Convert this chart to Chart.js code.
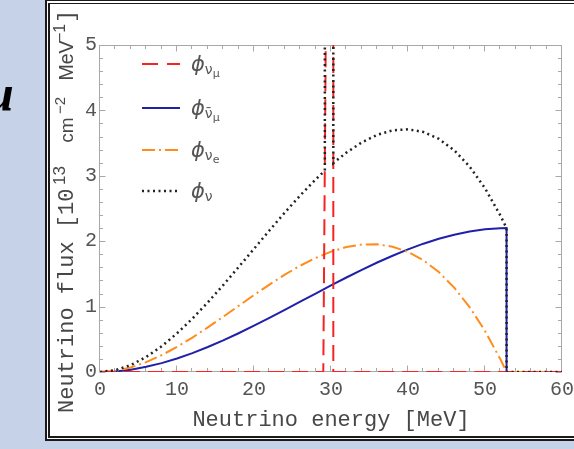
<!DOCTYPE html>
<html><head><meta charset="utf-8">
<script src="https://cdn.jsdelivr.net/npm/chart.js@4.4.1/dist/chart.umd.min.js"></script>
<style>
html,body{margin:0;padding:0;width:574px;height:449px;overflow:hidden;background:#c6d2e8;}
#panel{position:absolute;left:45px;top:0;width:620px;height:432px;border-left:5px double #1a1a1a;border-top:4px double #1a1a1a;border-bottom:5px double #1a1a1a;background:#fff;}
#mu{position:absolute;left:-14px;top:68px;font:italic bold 50px/50px "Liberation Serif";color:#000;}
#c{position:absolute;left:0;top:0;}
</style></head>
<body>
<div id="mu">μ</div>
<div id="panel"></div>
<canvas id="c" width="574" height="449"></canvas>
<script>
// ---- data ----
const energy = [0,2,4,6,8,10,12,14,16,18,20,22,24,26,28,30,32,34,36,38,40,42,44,46,48,50,52,52.8,52.8,60];
const fluxNuMuBar = [0,0.009,0.036,0.079,0.136,0.207,0.289,0.382,0.484,0.593,0.708,0.828,0.950,1.075,1.200,1.324,1.445,1.562,1.674,1.778,1.875,1.962,2.037,2.100,2.149,2.182,2.198,2.2,0,0];
const fluxNuE = [0,0.018,0.070,0.151,0.257,0.384,0.527,0.682,0.845,1.011,1.177,1.337,1.488,1.625,1.744,1.840,1.910,1.949,1.953,1.916,1.836,1.708,1.528,1.290,0.992,0.628,0.194,0,0,0];
const energyTotal = [0,2,4,6,8,10,12,14,16,18,20,22,24,26,28,29.2,29.2,30.3,30.3,32,34,36,38,40,42,44,46,48,50,52,52.8,52.8,60];
const fluxTotal = [0,0.028,0.106,0.230,0.393,0.591,0.816,1.064,1.329,1.604,1.884,2.164,2.438,2.700,2.944,3.079,5.6,5.6,3.194,3.355,3.511,3.626,3.695,3.711,3.670,3.565,3.390,3.141,2.810,2.392,2.2,0,0];
const energyNuMu = [0,29.0,29.35,30.3,30.3,60];
const fluxNuMu = [0,0,5.6,5.6,0,0];
const xTickValues = [0,10,20,30,40,50,60];
const yTickValues = [0,1,2,3,4,5];
const legendSub = ['ν','ν̄','ν','ν'];
const legendSubSub = ['μ','μ','e',''];
const xTitle = 'Neutrino energy [MeV]';
const yTitleParts = ['Neutrino flux [10','13',' cm','−2',' MeV','−1',']'];

const pts = (xs, ys) => xs.map((v,i)=>({x:v,y:ys[i]}));

const colors = {red:'#f42424', blue:'#2020a8', orange:'#ff8c1c', black:'#222222'};
const dashes = {red:[16,8], blue:[], orange:[13,4,2,4], black:[2,3.5]};

const framePlugin = {
  id:'frame',
  beforeDatasetsDraw(chart){
    const {ctx, chartArea:a, scales:{x,y}} = chart;
    ctx.save();
    ctx.strokeStyle='#a8a8a8'; ctx.lineWidth=1;
    const L=Math.round(a.left)-0.5, R=Math.round(a.right)-0.5, T=Math.round(a.top)+0.5, B=Math.round(a.bottom)-0.5;
    ctx.strokeRect(L,T,R-L,B-T);
    ctx.beginPath();
    for(let i=0;i<=30;i++){
      const v=2*i, p=Math.round(x.getPixelForValue(v))-0.5, len=(v%10===0)?6:3.5;
      ctx.moveTo(p,B); ctx.lineTo(p,B-len);
      ctx.moveTo(p,T); ctx.lineTo(p,T+len);
    }
    for(let i=0;i<=25;i++){
      const v=i/5, p=Math.round(y.getPixelForValue(v))+0.5, len=(i%5===0)?6:3.5;
      ctx.moveTo(L,p); ctx.lineTo(L+len,p);
      ctx.moveTo(R,p); ctx.lineTo(R-len,p);
    }
    ctx.stroke();
    ctx.restore();
  }
};

const textPlugin = {
  id:'texts',
  afterDraw(chart){
    const ctx = chart.ctx;
    ctx.save();
    // y axis title (rotated, mixed fonts)
    ctx.translate(73, 413);
    ctx.rotate(-Math.PI/2);
    ctx.fillStyle='#474747';
    ctx.textBaseline='alphabetic';
    const fonts = ['22px "Liberation Mono"','17px "Liberation Sans"','19px "Liberation Sans"','15px "Liberation Sans"','19.5px "Liberation Sans"','16px "Liberation Sans"','22px "Liberation Mono"'];
    const raise = [0,-8,0,-8,0,-8,0];
    const start = [0,228,265,299,327,371,390];
    yTitleParts.forEach((t,i)=>{
      ctx.font=fonts[i];
      ctx.fillText(t,start[i],raise[i]);
    });
    ctx.restore();

    // legend
    ctx.save();
    const rows=[64,108,150,191];
    const keys=['red','blue','orange','black'];
    rows.forEach((ry,i)=>{
      const k=keys[i];
      ctx.beginPath();
      ctx.strokeStyle=colors[k];
      ctx.lineWidth=(k==='black')?2.5:2;
      ctx.setLineDash(k==='red'?[16,9]:dashes[k]);
      ctx.moveTo(142,ry); ctx.lineTo(180,ry);
      ctx.stroke();
      ctx.setLineDash([]);
      ctx.fillStyle='#555';
      ctx.textBaseline='alphabetic';
      ctx.font='italic 21px "DejaVu Sans"';
      ctx.fillText('ϕ',191,ry+7);
      let xx=191+ctx.measureText('ϕ').width;
      ctx.font='14px "DejaVu Sans"';
      ctx.fillText(legendSub[i],xx,ry+10);
      xx+=ctx.measureText('ν').width;
      ctx.font='11px "DejaVu Sans"';
      if(legendSubSub[i]) ctx.fillText(legendSubSub[i],xx,ry+13);
    });
    ctx.restore();
  }
};

const baseDs = (label, xs, ys, key, order, extra={}) => Object.assign({
  label, data: pts(xs,ys), borderColor: colors[key], borderWidth: key==='black'?2.5:2,
  borderDash: dashes[key], pointRadius:0, fill:false, tension:0, order, clip:0
}, extra);

new Chart(document.getElementById('c'), {
  type:'line',
  data:{datasets:[
    baseDs('phi_nubar_mu', energy, fluxNuMuBar, 'blue', 3),
    baseDs('phi_nu_e', energy, fluxNuE, 'orange', 2),
    baseDs('phi_nu_mu', energyNuMu, fluxNuMu, 'red', 1),
    baseDs('phi_nu', energyTotal, fluxTotal, 'black', 0)
  ]},
  options:{
    responsive:false, animation:false, devicePixelRatio:1,
    layout:{padding:{left:0,right:12,top:45,bottom:0}},
    plugins:{legend:{display:false}, tooltip:{enabled:false}},
    scales:{
      x:{type:'linear', min:0, max:60,
        afterBuildTicks(s){ s.ticks = xTickValues.map(v=>({value:v})); },
        afterFit(s){ s.height=77; s.paddingRight=0; s.paddingLeft=0; },
        grid:{display:false, drawTicks:false}, border:{display:false},
        ticks:{font:{family:'Liberation Mono', size:20}, color:'#555', padding:6, maxRotation:0},
        title:{display:true, text:xTitle, font:{family:'Liberation Mono', size:22}, color:'#474747', padding:{top:0,bottom:16}}
      },
      y:{type:'linear', min:0, max:5,
        afterBuildTicks(s){ s.ticks = yTickValues.map(v=>({value:v})); },
        afterFit(s){ s.width=100; s.paddingTop=0; s.paddingBottom=0; },
        grid:{display:false, drawTicks:false}, border:{display:false},
        ticks:{font:{family:'Liberation Mono', size:20}, color:'#555', padding:3}
      }
    }
  },
  plugins:[framePlugin, textPlugin]
});
</script>
</body></html>
